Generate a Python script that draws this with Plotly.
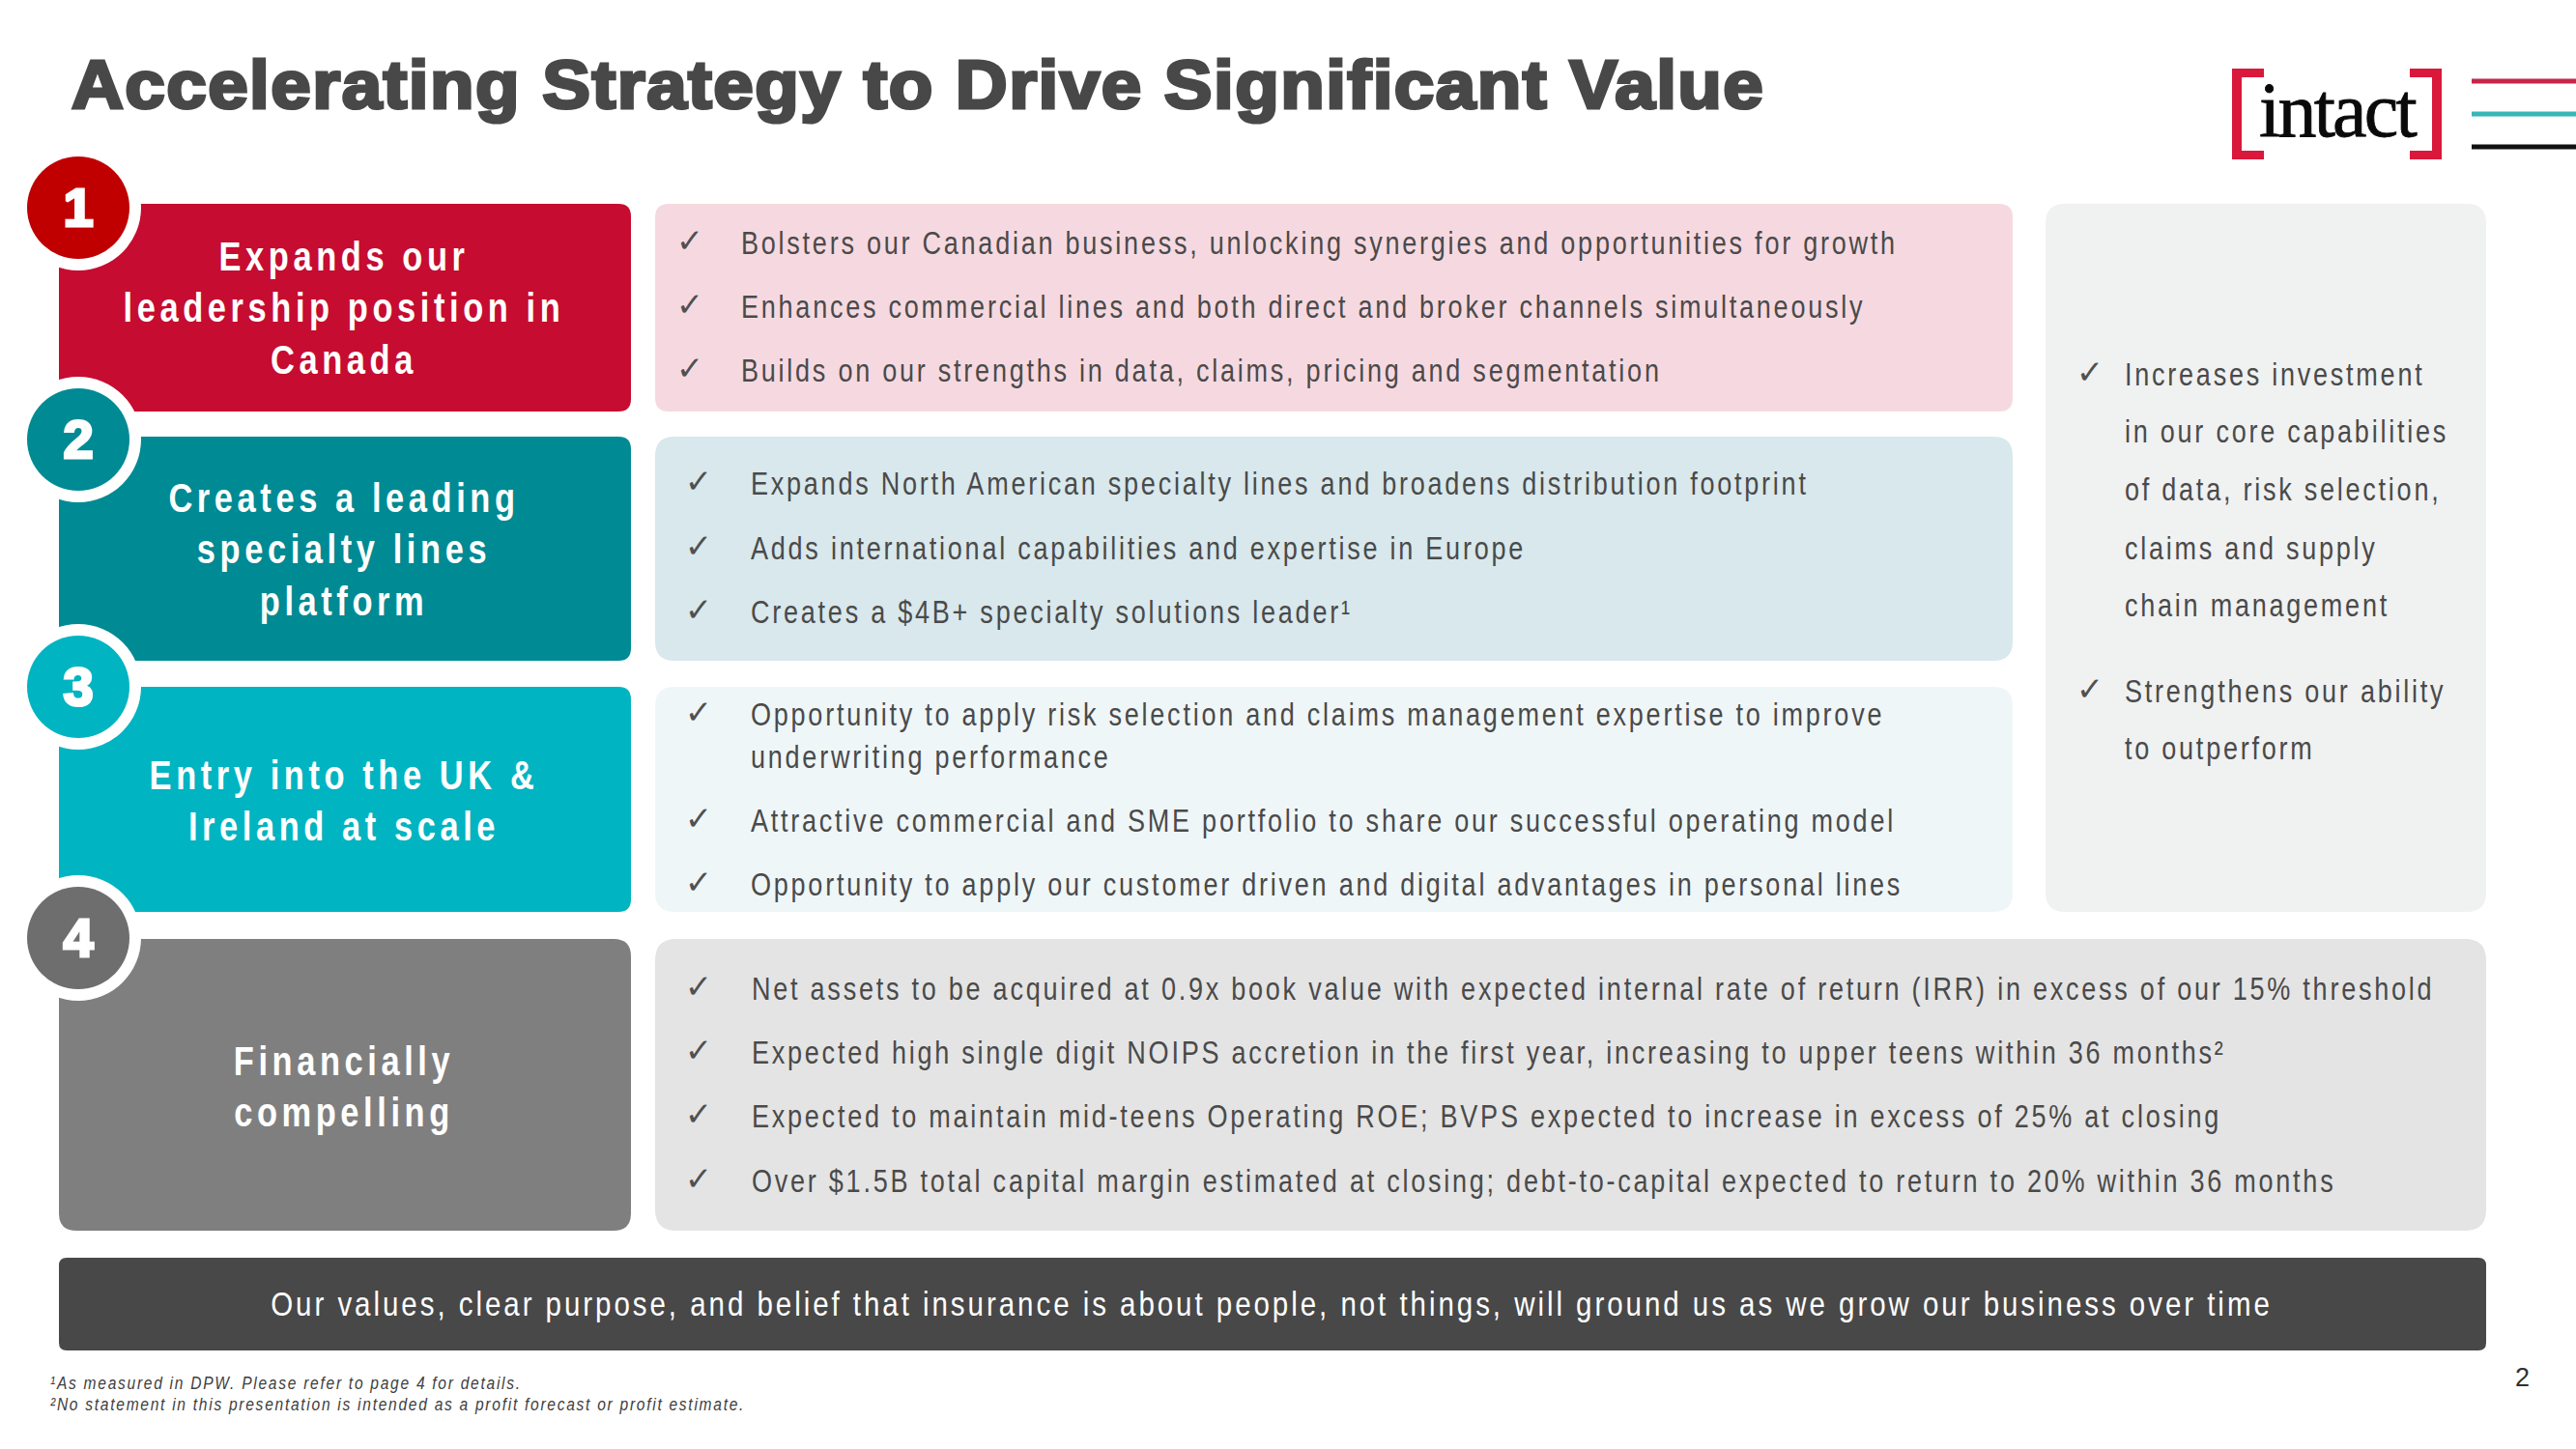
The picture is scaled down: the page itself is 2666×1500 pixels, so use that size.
import plotly.graph_objects as go

TITLE = "Accelerating Strategy to Drive Significant Value"
LOGO_WORD = "intact"
PAGE_NUMBER = "2"

NUMBERS = ["1", "2", "3", "4"]

HEAD_1 = ["Expands our", "leadership position in", "Canada"]
HEAD_2 = ["Creates a leading", "specialty lines", "platform"]
HEAD_3 = ["Entry into the UK &", "Ireland at scale"]
HEAD_4 = ["Financially", "compelling"]

BODY_1 = [
    "Bolsters our Canadian business, unlocking synergies and opportunities for growth",
    "Enhances commercial lines and both direct and broker channels simultaneously",
    "Builds on our strengths in data, claims, pricing and segmentation",
]
BODY_2 = [
    "Expands North American specialty lines and broadens distribution footprint",
    "Adds international capabilities and expertise in Europe",
    "Creates a $4B+ specialty solutions leader¹",
]
BODY_3 = [
    "Opportunity to apply risk selection and claims management expertise to improve",
    "underwriting performance",
    "Attractive commercial and SME portfolio to share our successful operating model",
    "Opportunity to apply our customer driven and digital advantages in personal lines",
]
BODY_4 = [
    "Net assets to be acquired at 0.9x book value with expected internal rate of return (IRR) in excess of our 15% threshold",
    "Expected high single digit NOIPS accretion in the first year, increasing to upper teens within 36 months²",
    "Expected to maintain mid-teens Operating ROE; BVPS expected to increase in excess of 25% at closing",
    "Over $1.5B total capital margin estimated at closing; debt-to-capital expected to return to 20% within 36 months",
]
SIDE = [
    "Increases investment",
    "in our core capabilities",
    "of data, risk selection,",
    "claims and supply",
    "chain management",
    "Strengthens our ability",
    "to outperform",
]
BANNER = "Our values, clear purpose, and belief that insurance is about people, not things, will ground us as we grow our business over time"
NOTES = [
    "¹As measured in DPW. Please refer to page 4 for details.",
    "²No statement in this presentation is intended as a profit forecast or profit estimate.",
]

DARK = "#484848"
ARIAL = "Liberation Sans, sans-serif"

fig = go.Figure()
shapes = []
# per text trace settings, applied in the post script (plotly has no option for these)
spacing = []
strokes = []
squeeze = []


def rounded(x0, y0, x1, y1, r, color):
    path = (f"M{x0 + r},{y0} L{x1 - r},{y0} Q{x1},{y0} {x1},{y0 + r} L{x1},{y1 - r} Q{x1},{y1} {x1 - r},{y1} "
            f"L{x0 + r},{y1} Q{x0},{y1} {x0},{y1 - r} L{x0},{y0 + r} Q{x0},{y0} {x0 + r},{y0} Z")
    shapes.append(dict(type="path", path=path, fillcolor=color, line=dict(width=0), layer="below"))


def circle(cx, cy, r, color):
    shapes.append(dict(type="circle", x0=cx - r, x1=cx + r, y0=cy - r, y1=cy + r,
                       fillcolor=color, line=dict(width=0), layer="below"))


def line(x0, x1, y, color, width):
    shapes.append(dict(type="line", x0=x0, x1=x1, y0=y, y1=y, line=dict(color=color, width=width), layer="below"))


def rect(x0, y0, x1, y1, color):
    shapes.append(dict(type="rect", x0=x0, x1=x1, y0=y0, y1=y1, fillcolor=color, line=dict(width=0), layer="below"))


def add_text(lines, xs, ys, size, color, family=ARIAL, pos="middle right", weight="normal", style="normal",
             ls=0, stroke=0, sx=1):
    fig.add_trace(go.Scatter(
        x=xs, y=[y + 3 for y in ys], text=lines, mode="text", textposition=pos,
        textfont=dict(size=size, color=color, family=family, weight=weight, style=style),
        hoverinfo="skip", showlegend=False,
    ))
    spacing.append(ls)
    strokes.append(stroke)
    squeeze.append(sx)


# Left header boxes
rounded(61, 211, 653, 426, 13, "#C60C30")
rounded(61, 452, 653, 684, 13, "#008A93")
rounded(61, 711, 653, 944, 13, "#00B4C2")
rounded(61, 972, 653, 1274, 18, "#7F7F7F")

# Body panels
rounded(678, 211, 2083, 426, 14, "#F6D9E0")
rounded(678, 452, 2083, 684, 20, "#D8E8EC")
rounded(678, 711, 2083, 944, 20, "#EFF6F8")
rounded(678, 972, 2573, 1274, 22, "#E4E4E4")
rounded(2117, 211, 2573, 944, 20, "#F0F1F1")
rounded(61, 1302, 2573, 1398, 8, DARK)

# Number badges
for cy, color in zip([215, 455, 711, 971], ["#C00000", "#008A93", "#00B4C2", "#6E6E6E"]):
    circle(81, cy, 65, "white")
    circle(81, cy, 53, color)

# Logo
rect(2310, 71, 2320, 165, "#D9183B")
rect(2310, 71, 2343, 80, "#D9183B")
rect(2310, 156, 2343, 165, "#D9183B")
rect(2517, 71, 2527, 165, "#D9183B")
rect(2494, 71, 2527, 80, "#D9183B")
rect(2494, 156, 2527, 165, "#D9183B")
line(2558, 2666, 84, "#C8254A", 5)
line(2558, 2666, 118, "#35B6B8", 5)
line(2558, 2666, 152, "#111111", 5)

# Title and logo word
add_text([TITLE], [74], [91], 71, DARK, weight="bold", ls=1.4, stroke=3.2, sx=1.05)
add_text([LOGO_WORD], [2338], [118], 80, "#0A0A0A", family="Liberation Serif, serif", ls=-2.8, stroke=0.8)

add_text(NUMBERS, [81] * 4, [217, 457, 713, 973], 56, "white", pos="middle center", weight="bold", stroke=3)

# Header text
head_y = [267, 320, 374, 517, 570, 624, 804, 857, 1100, 1153]
add_text(HEAD_1 + HEAD_2 + HEAD_3 + HEAD_4, [356] * 10, head_y, 42, "white", pos="middle center", weight="bold",
         ls=5.6, sx=0.82)

# Check marks
check_x = [714] * 3 + [723] * 3 + [723] * 3 + [723] * 4 + [2163] * 2
check_y = [249, 315, 381, 498, 565, 631, 737, 847, 913, 1021, 1087, 1153, 1220, 385, 713]
add_text(["✓"] * len(check_x), check_x, check_y, 34, "#505050", family="DejaVu Sans", pos="middle center")

# Body text
body_lines = BODY_1 + BODY_2 + BODY_3 + BODY_4 + SIDE
body_x = [767] * 3 + [777] * 3 + [777] * 4 + [778] * 4 + [2199] * 7
body_y = [252, 318, 384, 501, 568, 634, 740, 784, 850, 916, 1024, 1090, 1156, 1223, 388, 447, 507, 568, 627, 716, 775]
add_text(body_lines, body_x, body_y, 33, "#4A4A4A", ls=3.35, sx=0.82)

add_text([BANNER], [1316], [1350], 36, "white", pos="middle center", ls=3.6, sx=0.82)
add_text(NOTES, [52, 52], [1430, 1452], 19, "#404040", style="italic", ls=2.1, sx=0.82)
add_text([PAGE_NUMBER], [2603], [1425], 27, "#303030")

fig.update_layout(
    width=2666,
    height=1500,
    margin=dict(l=0, r=0, t=0, b=0),
    plot_bgcolor="white",
    paper_bgcolor="white",
    xaxis=dict(range=[0, 2666], visible=False, fixedrange=True),
    yaxis=dict(range=[1500, 0], visible=False, fixedrange=True),
    shapes=shapes,
    showlegend=False,
)

post = """
document.body.style.margin = '0';
document.body.style.overflow = 'hidden';
var ls = %s, st = %s, sq = %s;
document.querySelectorAll('.scatterlayer .trace').forEach(function (t, i) {
  t.querySelectorAll('text').forEach(function (e) {
    e.style.letterSpacing = ls[i] + 'px';
    if (st[i] > 0) { e.style.stroke = e.style.fill; e.style.strokeWidth = st[i] + 'px'; }
    if (sq[i] !== 1) {
      var x = parseFloat(e.getAttribute('x'));
      var old = e.getAttribute('transform') || '';
      e.setAttribute('transform', old + ' translate(' + x + ',0) scale(' + sq[i] + ',1) translate(' + (-x) + ',0)');
    }
  });
});
""" % (spacing, strokes, squeeze)

fig.write_html("out.html", post_script=post, config=dict(displayModeBar=False))
